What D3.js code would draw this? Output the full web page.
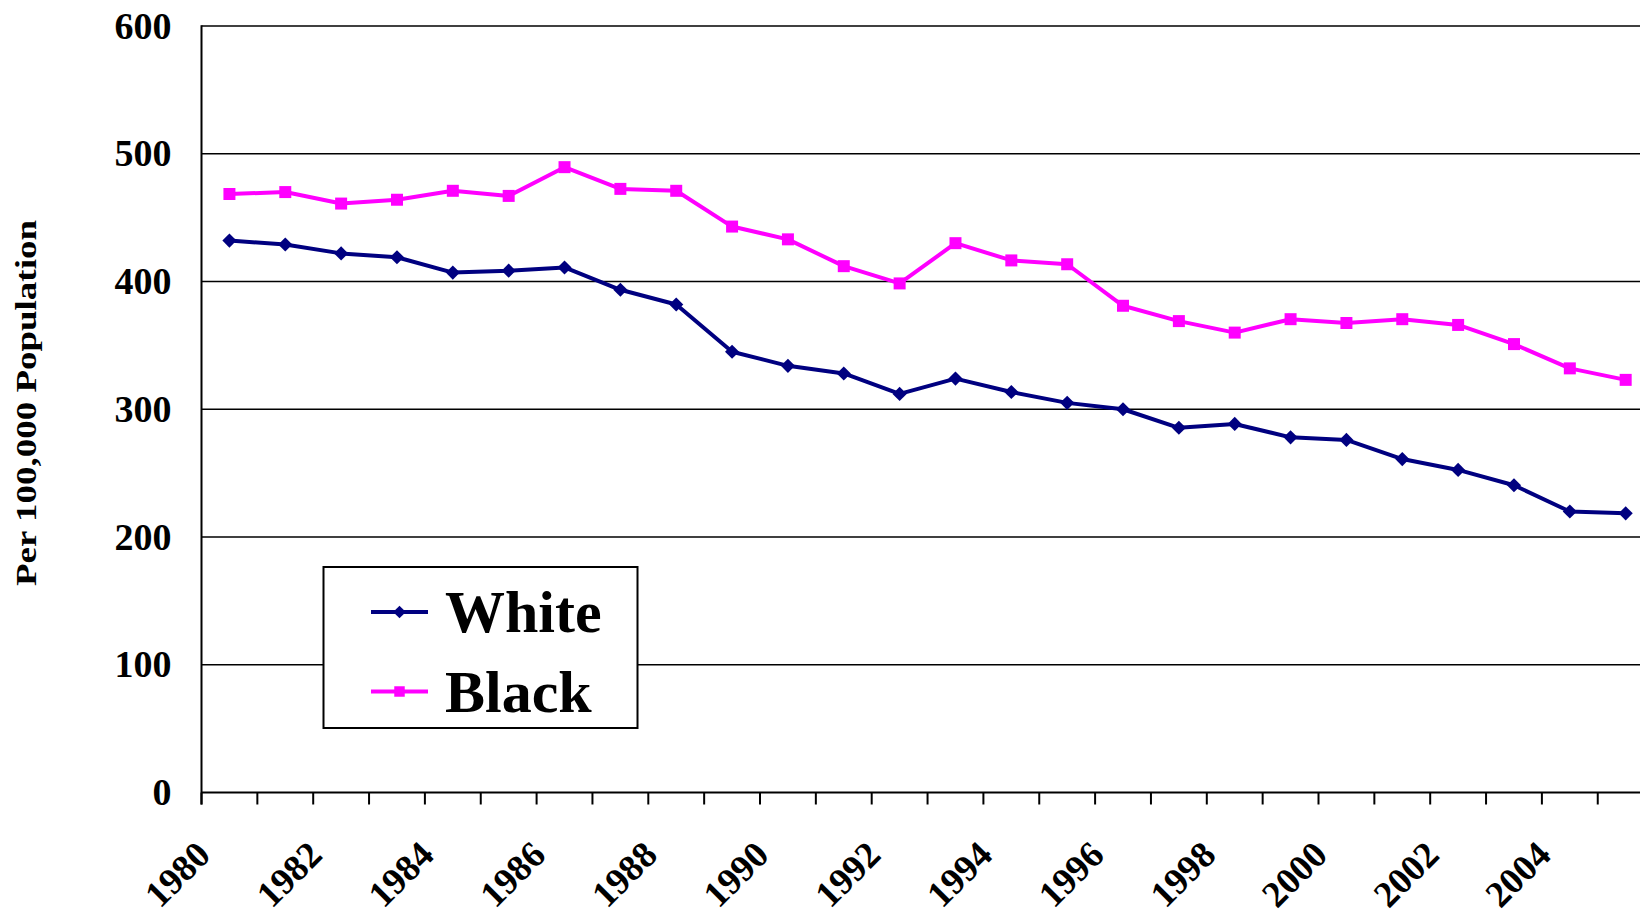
<!DOCTYPE html>
<html><head><meta charset="utf-8">
<script src="https://cdn.jsdelivr.net/npm/d3@7/dist/d3.min.js"></script>
<style>
body{margin:0;background:#fff;overflow:hidden;}
svg{display:block;}
text{font-family:"Liberation Serif","Times New Roman",serif;font-weight:bold;fill:#000;}
</style>
</head><body><svg id="c" width="1640" height="916"></svg>
<script>
const years = [1980,1981,1982,1983,1984,1985,1986,1987,1988,1989,1990,1991,1992,1993,1994,1995,1996,1997,1998,1999,2000,2001,2002,2003,2004,2005];
const white = [432,429,422,419,407,408.5,411,393.5,382,345,334,328,312,324,313.5,305,300,285.5,288.5,278,276,261,252.5,240.5,220,218.5];
const black = [468.5,470,461,464,471,467,489.5,472.5,471,443,433,412,398.5,430,416.5,413.5,381,369,360,370.5,367.5,370.5,366,351,332,323];
const xTickLabels = ["1980","1982","1984","1986","1988","1990","1992","1994","1996","1998","2000","2002","2004"];
const yTickValues = [0,100,200,300,400,500,600];
const seriesNames = ["White","Black"];
const seriesColors = ["#000080","#FF00FF"];
const yTitle = "Per 100,000 Population";

const svg = d3.select("#c");
const pLeft = 201.5, pTop = 26, pBottom = 792.5, band = 55.85;
const x = d3.scaleBand().domain(years).range([pLeft, pLeft + band * years.length]);
const y = d3.scaleLinear().domain([0, 600]).range([pBottom, pTop]);
const pRight = x.range()[1];

// gridlines
svg.append("g").selectAll("line").data(yTickValues.filter(v => v > 0)).join("line")
  .attr("x1", pLeft).attr("x2", pRight)
  .attr("y1", d => y(d)).attr("y2", d => y(d))
  .attr("stroke", "#000").attr("stroke-width", 1.6);

// y axis labels
const yAxis = svg.append("g").attr("transform", `translate(${pLeft},0)`)
  .call(d3.axisLeft(y).tickValues(yTickValues).tickSize(0).tickPadding(30));
yAxis.select(".domain").remove();
yAxis.selectAll("text").attr("font-size", 38).attr("font-family", "Liberation Serif").attr("font-weight", "bold");

// axis lines
svg.append("line").attr("x1", pLeft).attr("x2", pLeft).attr("y1", pTop - 0.8).attr("y2", pBottom + 12)
  .attr("stroke", "#000").attr("stroke-width", 2);
svg.append("line").attr("x1", pLeft).attr("x2", pRight).attr("y1", pBottom).attr("y2", pBottom)
  .attr("stroke", "#000").attr("stroke-width", 2.2);

// category ticks
svg.append("g").selectAll("line").data(years).join("line")
  .attr("x1", d => x(d)).attr("x2", d => x(d))
  .attr("y1", pBottom).attr("y2", pBottom + 12)
  .attr("stroke", "#000").attr("stroke-width", 2);

// x labels
svg.append("g").selectAll("text").data(xTickLabels).join("text")
  .attr("transform", d => `translate(${x(+d) + band / 2 - 17},857) rotate(-45)`)
  .attr("text-anchor", "end").attr("font-size", 37).text(d => d);

// y title
svg.append("text").attr("transform", "translate(35.5,403) rotate(-90)")
  .attr("text-anchor", "middle").attr("font-size", 30)
  .attr("textLength", 366).attr("lengthAdjust", "spacingAndGlyphs").text(yTitle);

// series
const seriesData = [white, black];
const line = d3.line().x((d, i) => x(years[i]) + band / 2).y(d => y(d));
const diamond = d3.symbol(d3.symbolSquare, 100);
const square = d3.symbol(d3.symbolSquare, 144);

seriesData.forEach((vals, s) => {
  svg.append("path").datum(vals).attr("d", line)
    .attr("fill", "none").attr("stroke", seriesColors[s]).attr("stroke-width", 4)
    .attr("stroke-linejoin", "round");
  svg.append("g").selectAll("path").data(vals).join("path")
    .attr("d", s === 0 ? diamond : square)
    .attr("transform", (d, i) => `translate(${x(years[i]) + band / 2},${y(d)})` + (s === 0 ? " rotate(45)" : ""))
    .attr("fill", seriesColors[s]);
});

// legend
const lg = svg.append("g");
lg.append("rect").attr("x", 323.5).attr("y", 567).attr("width", 314).attr("height", 161)
  .attr("fill", "#fff").attr("stroke", "#000").attr("stroke-width", 2);
const rowsY = [612, 691.5];
seriesNames.forEach((name, s) => {
  lg.append("line").attr("x1", 371).attr("x2", 428).attr("y1", rowsY[s]).attr("y2", rowsY[s])
    .attr("stroke", seriesColors[s]).attr("stroke-width", 4);
  lg.append("path").attr("d", s === 0 ? d3.symbol(d3.symbolSquare, 80)() : d3.symbol(d3.symbolSquare, 110)())
    .attr("transform", `translate(399.5,${rowsY[s]})` + (s === 0 ? " rotate(45)" : ""))
    .attr("fill", seriesColors[s]);
  lg.append("text").attr("x", 445).attr("y", rowsY[s] + 20).attr("font-size", 60).text(name);
});
</script>
</body></html>
